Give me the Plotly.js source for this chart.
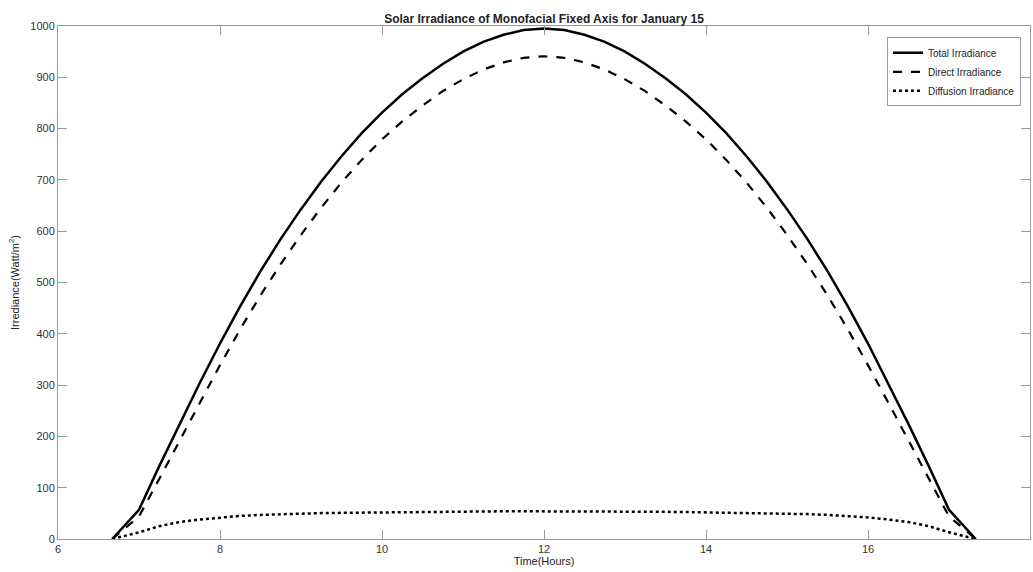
<!DOCTYPE html>
<html>
<head>
<meta charset="utf-8">
<script src="https://cdn.plot.ly/plotly-3.0.1.min.js"></script>
<style>html,body{margin:0;padding:0;background:#fff;}#chart{width:1033px;height:572px;}</style>
</head>
<body>
<div id="chart"></div>
<script>
// Time of day (hours)
const timeHours = [6.67, 7.00, 7.25, 7.50, 7.75, 8.00, 8.25, 8.50, 8.75, 9.00, 9.25, 9.50, 9.75, 10.00, 10.25, 10.50, 10.75, 11.00, 11.25, 11.50, 11.75, 12.00,
  12.25, 12.50, 12.75, 13.00, 13.25, 13.50, 13.75, 14.00, 14.25, 14.50, 14.75, 15.00, 15.25, 15.50, 15.75, 16.00, 16.25, 16.50, 16.75, 17.00, 17.33];
// Total irradiance (W/m^2)
const totalIrradiance = [0, 57, 142, 224, 304, 381, 454, 522, 585, 643, 697, 746, 791, 831, 867, 898, 926, 950, 969, 983, 992, 995,
  992, 983, 969, 950, 926, 898, 867, 831, 791, 746, 697, 643, 585, 522, 454, 381, 304, 224, 142, 57, 0];
// Direct irradiance (W/m^2)
const directIrradiance = [0, 44, 117, 191, 266, 339, 409, 475, 536, 593, 646, 695, 739, 779, 814, 845, 873, 896, 915, 929, 938, 941,
  938, 929, 915, 896, 873, 845, 814, 779, 739, 695, 646, 593, 536, 475, 409, 339, 266, 191, 117, 44, 0];
// Diffusion irradiance (W/m^2)
const diffuseIrradiance = [0, 13, 25, 33, 38, 42, 45, 47, 48.5, 49.5, 50.5, 51, 51.5, 52, 52.5, 53, 53, 53.5, 53.5, 54, 54, 54,
  54, 54, 53.5, 53.5, 53, 53, 52.5, 52, 51.5, 51, 50.5, 49.5, 48.5, 47, 45, 42, 38, 33, 25, 13, 0];
const seriesNames = ['Total Irradiance', 'Direct Irradiance', 'Diffusion Irradiance'];
const xTicks = [6, 8, 10, 12, 14, 16, 18];
const yTicks = [0, 100, 200, 300, 400, 500, 600, 700, 800, 900, 1000];

const traces = [
  {x: timeHours, y: totalIrradiance, name: seriesNames[0], mode: 'lines', line: {color: '#000', width: 2.5, dash: 'solid'}},
  {x: timeHours, y: directIrradiance, name: seriesNames[1], mode: 'lines', line: {color: '#000', width: 2.2, dash: 'dash'}},
  {x: timeHours, y: diffuseIrradiance, name: seriesNames[2], mode: 'lines', line: {color: '#000', width: 2.5, dash: 'dot'}}
];

const axisCommon = {
  showgrid: false, zeroline: false, showline: true, linecolor: '#9a9a9a', linewidth: 1,
  mirror: 'ticks', ticks: 'inside', ticklen: 9, tickcolor: '#9a9a9a', tickwidth: 1,
  tickfont: {family: 'Liberation Sans, Arial, sans-serif', size: 11, color: '#333'}
};

const layout = {
  width: 1033, height: 572,
  margin: {l: 58, r: 3, t: 26, b: 33},
  paper_bgcolor: '#fff', plot_bgcolor: '#fff',
  showlegend: true,
  title: {text: '<b>Solar Irradiance of Monofacial Fixed Axis for January 15</b>', x: 0.5, xanchor: 'center', xref: 'paper', y: 0.968, yanchor: 'middle',
    font: {family: 'Liberation Sans, Arial, sans-serif', size: 12, color: '#222'}},
  xaxis: Object.assign({}, axisCommon, {range: [6, 18], tickvals: xTicks, ticktext: xTicks.map(String),
    title: {text: 'Time(Hours)', standoff: 3, font: {family: 'Liberation Sans, Arial, sans-serif', size: 11, color: '#222'}}}),
  yaxis: Object.assign({}, axisCommon, {range: [0, 1000], tickvals: yTicks, ticktext: yTicks.map(String),
    title: {text: 'Irrediance(Watt/m<sup>2</sup>)', standoff: 8, font: {family: 'Liberation Sans, Arial, sans-serif', size: 11, color: '#222'}}}),
  legend: {x: 0.9907, xanchor: 'right', y: 0.978, yanchor: 'top', bgcolor: '#fff', bordercolor: '#9a9a9a', borderwidth: 1,
    font: {family: 'Liberation Sans, Arial, sans-serif', size: 10, color: '#222'}, tracegroupgap: 0, itemwidth: 30}
};

Plotly.newPlot('chart', traces, layout, {displayModeBar: false, staticPlot: true});
</script>
</body>
</html>
